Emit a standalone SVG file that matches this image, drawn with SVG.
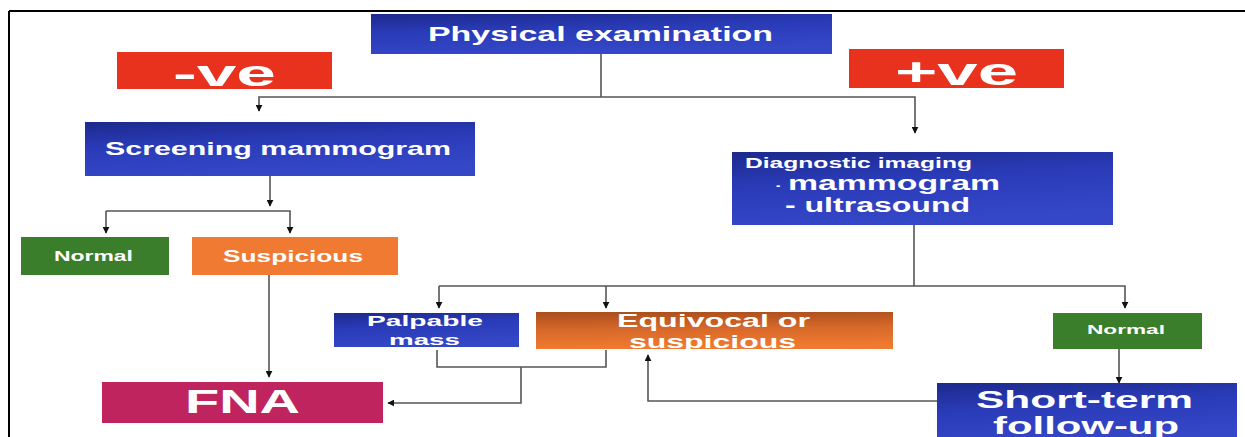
<svg xmlns="http://www.w3.org/2000/svg" width="1245" height="437" viewBox="0 0 1245 437">
<defs>
<linearGradient id="gBlue" x1="0" y1="0" x2="0.3" y2="1">
<stop offset="0" stop-color="#1C2A8C"/>
<stop offset="0.45" stop-color="#2A3BB8"/>
<stop offset="1" stop-color="#3447C6"/>
</linearGradient>
<linearGradient id="gOrange" x1="0" y1="0" x2="0.1" y2="1">
<stop offset="0" stop-color="#A84E1C"/>
<stop offset="0.5" stop-color="#D8692A"/>
<stop offset="1" stop-color="#F07A30"/>
</linearGradient>
<marker id="ah" viewBox="0 0 10 10" refX="9" refY="5" markerWidth="7" markerHeight="7" markerUnits="userSpaceOnUse" orient="auto">
<path d="M0,0 L10,5 L0,10 z" fill="#111"/>
</marker>
<style>
.t{font-family:"Liberation Sans",Arial,sans-serif;font-weight:bold;fill:#fff}
.c{fill:none;stroke:#555;stroke-width:1.6}
.a{marker-end:url(#ah)}
.blue{fill:url(#gBlue)}
.red{fill:#E8321E}
.green{fill:#3A7D2A}
.orange{fill:#F07A32}
.pink{fill:#C0245E}
</style>
</defs>
<rect x="0" y="0" width="1245" height="437" fill="#fff"/>
<g id="frame" stroke="#000" stroke-width="2" fill="none">
<line x1="9" y1="11" x2="1245" y2="11"/>
<line x1="9" y1="11" x2="9" y2="437"/>
</g>
<g id="connectors">
<path class="c" d="M601,54 V97"/>
<path class="c a" d="M601,97 H259 V111"/>
<path class="c a" d="M601,97 H915 V133"/>
<path class="c a" d="M270,176 V206"/>
<path class="c a" d="M106,211 H290 V233"/>
<path class="c a" d="M106,211 V233"/>
<path class="c a" d="M269,275 V377"/>
<path class="c" d="M914,225 V286"/>
<path class="c a" d="M439,286 H1125 V308"/>
<path class="c a" d="M439,286 V308"/>
<path class="c a" d="M606,286 V308"/>
<path class="c a" d="M1119,349 V383"/>
<path class="c a" d="M937,401 H648 V355"/>
<path class="c" d="M437,350 V367 H606 V350"/>
<path class="c a" d="M521,367 V403 H388"/>
</g>
<g id="physical-examination">
<rect class="blue" x="371" y="14" width="461" height="40"/>
<text class="t" x="428" y="41" font-size="21" textLength="345" lengthAdjust="spacingAndGlyphs">Physical examination</text>
</g>
<g id="neg">
<rect class="red" x="117" y="52" width="215" height="37"/>
<text class="t" x="173" y="86" font-size="37" textLength="103" lengthAdjust="spacingAndGlyphs">-ve</text>
</g>
<g id="pos">
<rect class="red" x="849" y="49" width="215" height="39"/>
<text class="t" x="895" y="85" font-size="38" textLength="123" lengthAdjust="spacingAndGlyphs">+ve</text>
</g>
<g id="screening-mammogram">
<rect class="blue" x="85" y="122" width="390" height="54"/>
<text class="t" x="105" y="155" font-size="19" textLength="346" lengthAdjust="spacingAndGlyphs">Screening mammogram</text>
</g>
<g id="normal-left">
<rect class="green" x="21" y="237" width="148" height="38"/>
<text class="t" x="54" y="261" font-size="15" textLength="79" lengthAdjust="spacingAndGlyphs">Normal</text>
</g>
<g id="suspicious">
<rect class="orange" x="192" y="237" width="206" height="38"/>
<text class="t" x="223" y="262" font-size="17" textLength="140" lengthAdjust="spacingAndGlyphs">Suspicious</text>
</g>
<g id="fna">
<rect class="pink" x="102" y="382" width="281" height="41"/>
<text class="t" x="185" y="413" font-size="33" textLength="115" lengthAdjust="spacingAndGlyphs">FNA</text>
</g>
<g id="diagnostic-imaging">
<rect class="blue" x="732" y="152" width="381" height="73"/>
<text class="t" x="745" y="168" font-size="14" textLength="227" lengthAdjust="spacingAndGlyphs">Diagnostic imaging</text>
<text class="t" x="776" y="190" font-size="13">-</text>
<text class="t" x="788" y="190" font-size="20" textLength="212" lengthAdjust="spacingAndGlyphs">mammogram</text>
<text class="t" x="785" y="212" font-size="20" textLength="185" lengthAdjust="spacingAndGlyphs">- ultrasound</text>
</g>
<g id="palpable-mass">
<rect class="blue" x="334" y="313" width="185" height="34"/>
<text class="t" x="367" y="326" font-size="15.5" textLength="116" lengthAdjust="spacingAndGlyphs">Palpable</text>
<text class="t" x="389" y="345" font-size="15.5" textLength="71" lengthAdjust="spacingAndGlyphs">mass</text>
</g>
<g id="equivocal">
<rect fill="url(#gOrange)" x="536" y="312" width="357" height="37"/>
<text class="t" x="617" y="327" font-size="18.5" textLength="193" lengthAdjust="spacingAndGlyphs">Equivocal or</text>
<text class="t" x="629" y="348" font-size="19" textLength="167" lengthAdjust="spacingAndGlyphs">suspicious</text>
</g>
<g id="normal-right">
<rect class="green" x="1053" y="313" width="149" height="36"/>
<text class="t" x="1087" y="334" font-size="13" textLength="78" lengthAdjust="spacingAndGlyphs">Normal</text>
</g>
<g id="short-term">
<rect class="blue" x="937" y="383" width="300" height="60"/>
<text class="t" x="976" y="408" font-size="23" textLength="217" lengthAdjust="spacingAndGlyphs">Short-term</text>
<text class="t" x="993" y="434" font-size="23" textLength="186" lengthAdjust="spacingAndGlyphs">follow-up</text>
</g>
</svg>
